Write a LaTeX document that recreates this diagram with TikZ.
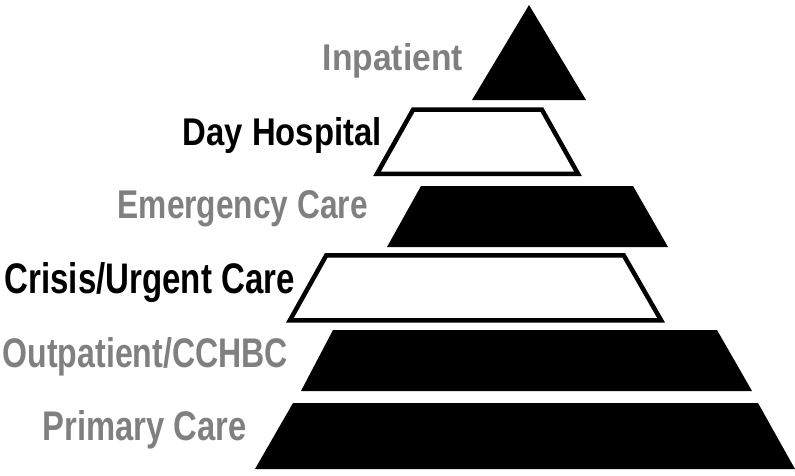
\documentclass[tikz,border=0pt]{standalone}
\usepackage{fontspec}
\setmainfont{Liberation Sans}
\usepackage{graphicx}
\definecolor{halftone}{gray}{0.5}
\tikzset{
  lab/.style={anchor=base east, inner sep=0pt, font=\bfseries},
  graylab/.style={lab, text=halftone},
  blacklab/.style={lab, text=black},
  tier/.style={fill=black},
  ring/.style={draw=black, line width=4.5pt, line join=miter, fill=white}
}
\begin{document}
\begin{tikzpicture}[x=1pt,y=-1pt]
\useasboundingbox (0,0) rectangle (795,475);
% tiers
\fill[tier] (529,5) -- (586,100) -- (472,100) -- cycle;
\draw[ring] (413.2,109.5) -- (541.8,109.5) -- (578.0,173.8) -- (377.0,173.8) -- cycle;
\fill[tier] (421,186) -- (633,186) -- (668,247) -- (387,247) -- cycle;
\draw[ring] (326.3,255.3) -- (623.7,255.3) -- (661.1,320.3) -- (289.9,320.3) -- cycle;
\fill[tier] (333,330) -- (717,330) -- (752,391) -- (301,391) -- cycle;
\fill[tier] (293,403) -- (758,403) -- (795,469) -- (255,469) -- cycle;
% labels
\node[graylab]  (inp) at (463,70)  {\resizebox{140pt}{27pt}{Inpatient}};
\node[blacklab] (day) at (382,145) {\resizebox{199pt}{28pt}{Day Hospital}};
\node[graylab]  (eme) at (368,218) {\resizebox{250pt}{28pt}{Emergency Care}};
\node[blacklab] (cri) at (295,293) {\resizebox{290pt}{31pt}{Crisis/Urgent Care}};
\node[graylab]  (out) at (288,367) {\resizebox{285pt}{30pt}{Outpatient/CCHBC}};
\node[graylab]  (pri) at (247,440) {\resizebox{204pt}{30pt}{Primary Care}};
\end{tikzpicture}
\end{document}
